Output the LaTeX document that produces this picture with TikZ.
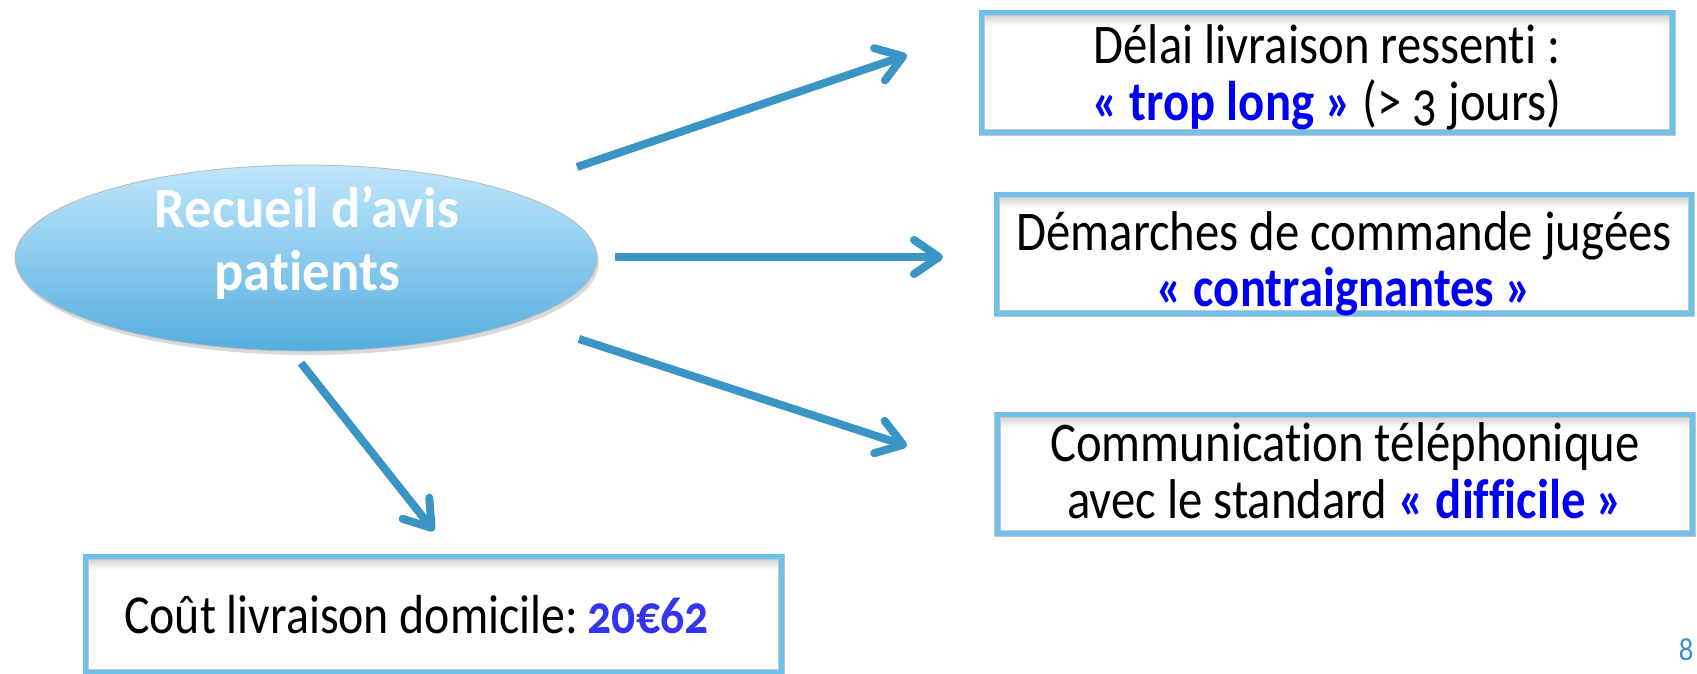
\documentclass[tikz,border=0pt]{standalone}
\usepackage{fontspec}
\setmainfont{Carlito}[Numbers=OldStyle, Ligatures=NoCommon, FakeStretch=0.87]
\newfontfamily\ellfont{Carlito}[Ligatures=NoCommon, FakeStretch=0.96]
\usetikzlibrary{arrows.meta,shapes.geometric,shadows}
\definecolor{arrowblue}{HTML}{3A94C4}
\definecolor{boxblue}{HTML}{6FC0EA}
\definecolor{elltop}{HTML}{BFE6FB}
\definecolor{ellbot}{HTML}{55AEDF}
\definecolor{hiblue}{HTML}{0000F5}
\definecolor{priceblue}{HTML}{3434EE}
\definecolor{pageblue}{HTML}{3B8FCB}
\begin{document}
\begin{tikzpicture}[x=1pt,y=-1pt,
  boxstyle/.style={rectangle, inner sep=0pt, fill=white,
    drop shadow={shadow xshift=2pt, shadow yshift=-3pt, opacity=0.3}},
  borderstyle/.style={draw=gray!45, line width=0.8pt, double=boxblue, double distance=5pt},
  innershade/.style={top color=black!16, bottom color=white},
  txt/.style={inner sep=0pt, font=\fontsize{56}{60}\selectfont, text=black},
  etxt/.style={inner sep=0pt, font=\ellfont\fontsize{57}{62}\selectfont\bfseries, text=white},
  arr/.style={draw=arrowblue, line width=8pt, -{Straight Barb[length=25pt,width=34pt,round]}},
]
\useasboundingbox (0,0) rectangle (1697,673);

% central ellipse
\node[ellipse, minimum width=582pt, minimum height=186pt, top color=elltop, bottom color=ellbot,
  draw=gray!55, line width=0.8pt,
  drop shadow={shadow xshift=2pt, shadow yshift=-4pt, opacity=0.3}] (ell) at (306,258) {};
\node[etxt, anchor=base] (e1) at (307,227) {Recueil d’avis};
\node[etxt, anchor=base] (e2) at (307,290) {patients};

% boxes
\node[boxstyle, minimum width=690pt, minimum height=119pt] (box1) at (1327,72.5) {};
\node[boxstyle, minimum width=694pt, minimum height=118pt] (box2) at (1344,254) {};
\node[boxstyle, minimum width=695pt, minimum height=118pt] (box3) at (1345,474) {};
\node[boxstyle, minimum width=695pt, minimum height=115pt] (box4) at (433.5,614.5) {};
\foreach \b in {box1,box2,box3,box4}{
  \shade[innershade] ([yshift=-3pt]\b.north west) rectangle ([yshift=-13pt]\b.north east);
  \draw[borderstyle] (\b.north west) rectangle (\b.south east);
}

\node[txt, anchor=base] (t1a) at (1327,63) {Délai livraison ressenti :};
\node[txt, anchor=base] (t1b) at (1327,120) {\textcolor{hiblue}{\textbf{« trop long »}} (> 3 jours)};

\node[txt, anchor=base] (t2a) at (1344,250) {Démarches de commande jugées};
\node[txt, anchor=base] (t2b) at (1344,306) {\textcolor{hiblue}{\textbf{« contraignantes »}}};

\node[txt, anchor=base] (t3a) at (1345,461) {Communication téléphonique};
\node[txt, anchor=base] (t3b) at (1345,518) {avec le standard \textcolor{hiblue}{\textbf{« difficile »}}};

\node[txt, anchor=base west, font=\fontsize{55}{60}\selectfont] (t4) at (124,633) {Coût livraison domicile:\,\textcolor{priceblue}{\textbf{20€62}}};

% arrows
\coordinate (a1s) at (577,167); \coordinate (a1e) at (907,55);
\coordinate (a2s) at (615,257); \coordinate (a2e) at (943,257);
\coordinate (a3s) at (579,339); \coordinate (a3e) at (907,446);
\coordinate (a4s) at (301,363); \coordinate (a4e) at (434,531);
\draw[arr] (a1s) -- (a1e);
\draw[arr] (a2s) -- (a2e);
\draw[arr] (a3s) -- (a3e);
\draw[arr] (a4s) -- (a4e);

% page number
\node[inner sep=0pt, font=\fontsize{34}{36}\selectfont, text=pageblue] (pg) at (1686,650) {8};
\end{tikzpicture}
\end{document}
